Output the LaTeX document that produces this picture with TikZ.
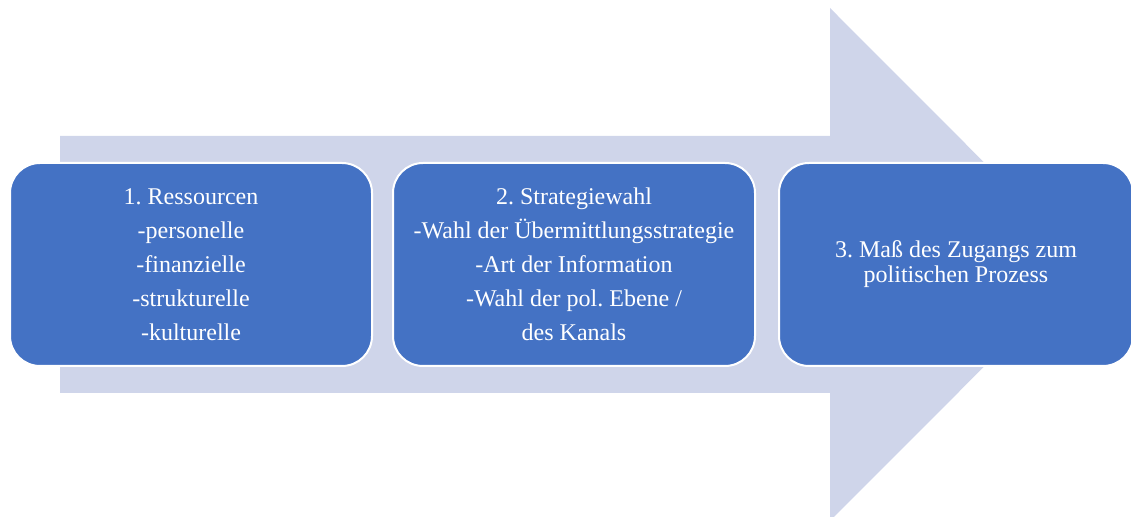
\documentclass[tikz,border=0pt]{standalone}
\usepackage{fontspec}
\setmainfont{Liberation Serif}
\frenchspacing
\definecolor{pfeil}{HTML}{CFD5EA}
\definecolor{kasten}{HTML}{4472C4}
\begin{document}
\begin{tikzpicture}[x=0.5pt,y=-0.5pt,
    stufe/.style={draw=white,line width=1pt,fill=kasten,rounded corners=15pt,
        text=white,align=center,minimum height=101.5pt,inner sep=0pt,
        font=\fontsize{12}{17}\selectfont}]
    \useasboundingbox (0,0) rectangle (1131,517);
    % Pfeil im Hintergrund
    \fill[pfeil] (60,136) -- (830,136) -- (830,8) -- (1086,264.5)
        -- (830,521) -- (830,393) -- (60,393) -- cycle;
    % Stufen
    \node[stufe,minimum width=181pt] (ress) at (191,264.5)
        {1. Ressourcen\\-personelle\\-finanzielle\\-strukturelle\\-kulturelle};
    \node[stufe,minimum width=181pt] (strat) at (574,264.5)
        {2. Strategiewahl\\-Wahl der Übermittlungsstrategie\\-Art der Information\\-Wahl der pol. Ebene /\\des Kanals};
    \node[stufe,minimum width=177pt,font=\fontsize{12}{12.5}\selectfont] (zugang) at (956,264.5)
        {3. Maß des Zugangs zum\\politischen Prozess};
\end{tikzpicture}
\end{document}
